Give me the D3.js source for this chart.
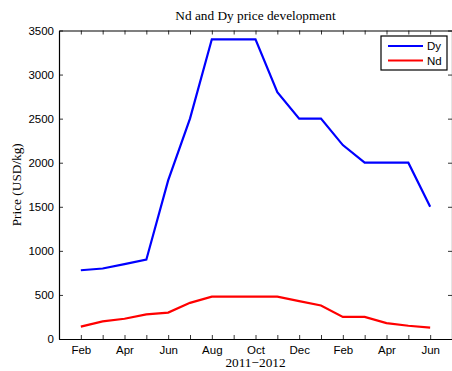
<!DOCTYPE html>
<html>
<head>
<meta charset="utf-8">
<script src="https://cdn.jsdelivr.net/npm/d3@7"></script>
<style>
  html, body { margin: 0; padding: 0; background: #fff; }
  svg { display: block; }
</style>
</head>
<body>
<svg id="chart" width="452" height="371"></svg>
<script>
// Monthly prices, Feb 2011 – Jun 2012
const months = ["2011-02","2011-03","2011-04","2011-05","2011-06","2011-07","2011-08","2011-09",
                "2011-10","2011-11","2011-12","2012-01","2012-02","2012-03","2012-04","2012-05","2012-06"];
const dyPrice = [780, 800, 850, 900, 1800, 2500, 3400, 3400, 3400, 2800, 2500, 2500, 2200, 2000, 2000, 2000, 1500];
const ndPrice = [140, 200, 230, 280, 300, 410, 480, 480, 480, 480, 430, 380, 250, 250, 180, 150, 130];
const yTicks = [0, 500, 1000, 1500, 2000, 2500, 3000, 3500];
const xLabelMonths = ["2011-02","2011-04","2011-06","2011-08","2011-10","2011-12","2012-02","2012-04","2012-06"];

const parse = d3.timeParse("%Y-%m");
const dates = months.map(parse);

const svg = d3.select("#chart");
const m = { left: 59, right: 452, top: 30.5, bottom: 339 };

// month index scale: Jan 2011 .. Jul 2012
const monthIndex = d => (d.getFullYear() - 2011) * 12 + d.getMonth();
const x = d3.scaleLinear().domain([0, 18]).range([m.left, m.right]);
const y = d3.scaleLinear().domain([0, 3500]).range([m.bottom, m.top]);

const tickFont = "'Liberation Sans', Arial, Helvetica, sans-serif";
const serif = "'Liberation Serif', 'Times New Roman', serif";

// a tick for every month
const allTicks = d3.range(1, 18);

// bottom axis
const xAxis = d3.axisBottom(x).tickValues(allTicks).tickSizeInner(-4).tickSizeOuter(0)
  .tickFormat(v => {
    const d = new Date(2011, v, 1);
    const key = d3.timeFormat("%Y-%m")(d);
    return xLabelMonths.includes(key) ? d3.timeFormat("%b")(d) : "";
  });
const gx = svg.append("g").attr("transform", `translate(0,${m.bottom})`).call(xAxis);
gx.selectAll("text").attr("dy", null).attr("y", 15).style("font", `11.5px ${tickFont}`).attr("fill", "#000");

// top axis (ticks only)
svg.append("g").attr("transform", `translate(0,${m.top})`)
  .call(d3.axisTop(x).tickValues(allTicks).tickSizeInner(-4).tickSizeOuter(0).tickFormat(""));

// left axis
const yAxis = d3.axisLeft(y).tickValues(yTicks).tickSizeInner(-4).tickSizeOuter(0).tickFormat(d3.format("d"));
const gy = svg.append("g").attr("transform", `translate(${m.left},0)`).call(yAxis);
gy.selectAll("text").attr("x", -5).style("font", `11.5px ${tickFont}`).attr("fill", "#000");

// right axis (ticks only)
svg.append("g").attr("transform", `translate(${m.right},0)`)
  .call(d3.axisRight(y).tickValues(yTicks).tickSizeInner(-4).tickSizeOuter(0).tickFormat(""));

svg.selectAll(".domain").attr("stroke", "#000").attr("stroke-width", 1.2);
svg.selectAll(".tick line").attr("stroke", "#000").attr("stroke-width", 0.8);

// data lines
const line = d3.line().x((d, i) => x(monthIndex(dates[i]))).y(d => y(d));
svg.append("path").datum(dyPrice).attr("d", line)
  .attr("fill", "none").attr("stroke", "#0000ff").attr("stroke-width", 2.2).attr("stroke-linejoin", "miter");
svg.append("path").datum(ndPrice).attr("d", line)
  .attr("fill", "none").attr("stroke", "#ff0000").attr("stroke-width", 2.2).attr("stroke-linejoin", "miter");

// title and axis labels
svg.append("text").attr("x", (m.left + m.right) / 2).attr("y", 20).attr("text-anchor", "middle")
  .style("font", `13.3px ${serif}`).text("Nd and Dy price development");
svg.append("text").attr("x", (m.left + m.right) / 2).attr("y", 367).attr("text-anchor", "middle")
  .style("font", `13.3px ${serif}`).text("2011\u22122012");
svg.append("text").attr("transform", `translate(21,${(m.top + m.bottom) / 2}) rotate(-90)`)
  .attr("text-anchor", "middle").style("font", `13.3px ${serif}`).text("Price (USD/kg)");

// legend
const legend = svg.append("g");
legend.append("rect").attr("x", 381).attr("y", 36).attr("width", 66).attr("height", 34)
  .attr("fill", "#fff").attr("stroke", "#000").attr("stroke-width", 1.2);
const entries = [{ name: "Dy", color: "#0000ff" }, { name: "Nd", color: "#ff0000" }];
entries.forEach((e, i) => {
  const yy = 46 + i * 14.5;
  legend.append("line").attr("x1", 388).attr("x2", 423).attr("y1", yy).attr("y2", yy)
    .attr("stroke", e.color).attr("stroke-width", 2.2);
  legend.append("text").attr("x", 427).attr("y", yy + 4.2).style("font", `11.5px ${tickFont}`).text(e.name);
});
</script>
</body>
</html>
